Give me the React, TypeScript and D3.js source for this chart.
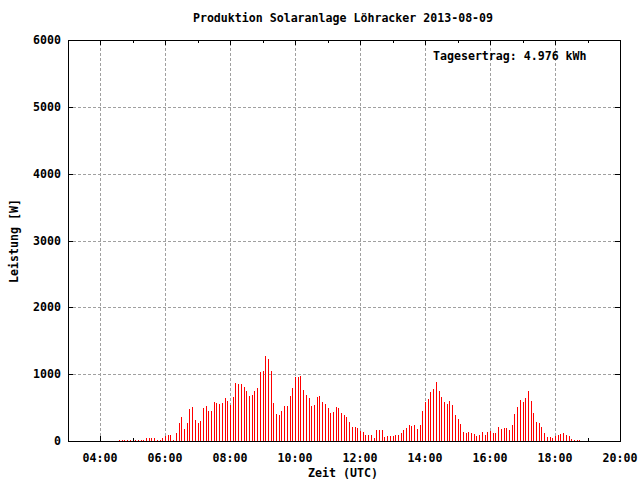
import React from "react";
import * as d3 from "d3";

// Power readings (W), one every 5 minutes starting at 04:35 UTC
const startMinute = 4 * 60 + 35;
const stepMinutes = 5;
const powerValues: number[] = [
  20, 20, 20, 20, 20, 0, 20, 20, 20, 20,
  40, 40, 40, 40, 20, 20, 50, 75, 85, 95,
  20, 125, 275, 365, 185, 275, 480, 505, 320, 265,
  295, 490, 520, 445, 445, 580, 565, 550, 565, 640,
  605, 535, 655, 865, 850, 850, 805, 750, 670, 685,
  745, 790, 1035, 1050, 1270, 1230, 1050, 570, 405, 390,
  450, 525, 525, 675, 795, 960, 960, 975, 765, 690,
  645, 525, 540, 660, 675, 585, 555, 495, 420, 435,
  510, 495, 420, 390, 358, 280, 205, 205, 190, 145,
  130, 85, 85, 85, 40, 160, 160, 160, 55, 70,
  70, 70, 85, 85, 115, 160, 190, 235, 220, 235,
  175, 235, 445, 578, 635, 740, 785, 890, 755, 665,
  590, 560, 605, 545, 395, 335, 260, 140, 125, 140,
  125, 110, 80, 95, 140, 95, 140, 155, 125, 125,
  215, 185, 200, 200, 170, 245, 410, 515, 620, 590,
  650, 755, 605, 425, 290, 275, 215, 125, 65, 65,
  50, 80, 95, 110, 125, 95, 80, 35, 20, 20,
  20,
];

const xMajorTicks = [4, 6, 8, 10, 12, 14, 16, 18, 20];
const xMinorTicks = [5, 7, 9, 11, 13, 15, 17, 19];
const yTicks = [0, 1000, 2000, 3000, 4000, 5000, 6000];

const titleText = "Produktion Solaranlage Löhracker 2013-08-09";
const xTitle = "Zeit (UTC)";
const yTitle = "Leistung [W]";
const yieldText = "Tagesertrag: 4.976 kWh";

const W = 640;
const H = 480;
const left = 68;
const right = 620;
const top = 40;
const bottom = 441;

const font = "'DejaVu Sans Mono', 'Liberation Mono', monospace";

export default function App() {
  const x = d3.scaleLinear().domain([3, 20]).range([left - 0.5, right]);
  const y = d3.scaleLinear().domain([0, 6000]).range([bottom, top]);
  const pad = (n: number) => (n < 10 ? "0" + n : "" + n);
  const hourLabel = (h: number) => pad(h) + ":00";

  const data = powerValues.map((v, i) => ({
    t: (startMinute + i * stepMinutes) / 60,
    v,
  }));

  const px = (v: number) => Math.round(v) + 0.5;

  return (
    <svg
      width={W}
      height={H}
      style={{ position: "absolute", left: 0, top: 0, background: "#fff" }}
      fontFamily={font}
      fontWeight="bold"
      fontSize={11.6}
    >
      <rect x={0} y={0} width={W} height={H} fill="#fff" />
      {/* grid */}
      <g stroke="#a0a0a0" strokeWidth={1} strokeDasharray="3,2" shapeRendering="crispEdges">
        {xMajorTicks
          .filter((h) => h < 20)
          .map((h) => (
            <line key={"gx" + h} x1={px(x(h))} x2={px(x(h))} y1={bottom} y2={top} />
          ))}
        {yTicks
          .filter((v) => v > 0 && v < 6000)
          .map((v) => (
            <line key={"gy" + v} x1={left} x2={right} y1={px(y(v))} y2={px(y(v))} />
          ))}
      </g>
      {/* ticks */}
      <g stroke="#000" strokeWidth={1} shapeRendering="crispEdges">
        {xMajorTicks.map((h) => (
          <g key={"tx" + h}>
            <line x1={px(x(h))} x2={px(x(h))} y1={bottom} y2={bottom - 5} />
            <line x1={px(x(h))} x2={px(x(h))} y1={top} y2={top + 5} />
          </g>
        ))}
        {xMinorTicks.map((h) => (
          <g key={"mx" + h}>
            <line x1={px(x(h))} x2={px(x(h))} y1={bottom} y2={bottom - 3} />
            <line x1={px(x(h))} x2={px(x(h))} y1={top} y2={top + 3} />
          </g>
        ))}
        {yTicks.map((v) => (
          <g key={"ty" + v}>
            <line x1={left} x2={left + 5} y1={px(y(v))} y2={px(y(v))} />
            <line x1={right} x2={right - 5} y1={px(y(v))} y2={px(y(v))} />
          </g>
        ))}
      </g>
      {/* bars (impulses) */}
      <g fill="#ff0000" shapeRendering="crispEdges">
        {data
          .filter((d) => d.v > 0)
          .map((d, i) => {
            const cx = Math.round(x(d.t));
            const yt = Math.round(y(d.v));
            return <rect key={i} x={cx} y={yt} width={1} height={bottom - yt} />;
          })}
      </g>
      {/* border */}
      <rect
        x={px(left)}
        y={px(top)}
        width={right - left}
        height={bottom - top}
        fill="none"
        stroke="#000"
        strokeWidth={1}
        shapeRendering="crispEdges"
      />
      {/* y tick labels */}
      {yTicks.map((v) => (
        <text key={"ly" + v} x={61} y={y(v) + 4} textAnchor="end">
          {v}
        </text>
      ))}
      {/* x tick labels */}
      {xMajorTicks.map((h) => (
        <text key={"lx" + h} x={x(h)} y={462} textAnchor="middle">
          {hourLabel(h)}
        </text>
      ))}
      <text x={343} y={22} textAnchor="middle">
        {titleText}
      </text>
      <text x={343} y={477} textAnchor="middle">
        {xTitle}
      </text>
      <text x={0} y={0} textAnchor="middle" transform={`translate(18,241) rotate(-90)`}>
        {yTitle}
      </text>
      <text x={433} y={60} textAnchor="start">
        {yieldText}
      </text>
    </svg>
  );
}
